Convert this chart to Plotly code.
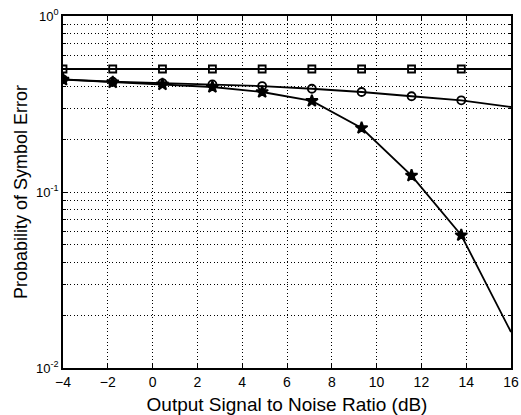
import plotly.graph_objects as go

# Output SNR sample points (dB)
snr_db = [-4.0, -1.78, 0.44, 2.67, 4.89, 7.11, 9.33, 11.56, 13.78, 16.0]

# Symbol error probability for the three receivers
pe_square = [0.50, 0.50, 0.50, 0.50, 0.50, 0.50, 0.50, 0.50, 0.50, 0.50]
pe_circle = [0.437, 0.423, 0.416, 0.409, 0.400, 0.386, 0.370, 0.350, 0.332, 0.304]
pe_star = [0.435, 0.420, 0.409, 0.395, 0.370, 0.329, 0.231, 0.124, 0.0568, 0.016]

x_ticks = [-4, -2, 0, 2, 4, 6, 8, 10, 12, 14, 16]
y_ticks = [0.01, 0.1, 1.0]
y_ticktext = ["10<sup>-2</sup>", "10<sup>-1</sup>", "10<sup>0</sup>"]
y_minor = [m * 10.0 ** e for e in (-2, -1) for m in range(2, 10)]

# markers on every sample except the last one, which sits on the frame
marker_sizes = [1] * (len(snr_db) - 1) + [0]

fig = go.Figure()
series = [
    (pe_square, "square-open", 7),
    (pe_circle, "circle-open", 8),
    (pe_star, "star", 9),
]
for values, symbol, size in series:
    fig.add_trace(go.Scatter(
        x=snr_db, y=values, mode="lines+markers",
        line=dict(color="black", width=1.8),
        marker=dict(symbol=symbol, size=[size * s for s in marker_sizes],
                    color="black", opacity=1,
                    line=dict(color="black", width=1.8)),
        showlegend=False,
    ))

font_family = "Liberation Sans, Arial, sans-serif"
grid_dash = "1px,2.5px"

fig.update_layout(
    width=521, height=415,
    margin=dict(l=63, r=10, t=16, b=47),
    paper_bgcolor="white", plot_bgcolor="white",
    font=dict(family=font_family, color="black", size=14),
)
fig.update_xaxes(
    range=[-4, 16], tickvals=x_ticks,
    ticktext=[str(v).replace("-", "\u2212") for v in x_ticks],
    showline=True, linecolor="black", linewidth=1.5, mirror="ticks",
    ticks="inside", ticklen=5, tickcolor="black", tickwidth=1,
    showgrid=True, gridcolor="black", gridwidth=1, griddash=grid_dash,
    zeroline=False, tickfont=dict(size=14), automargin=False,
    title=dict(text="Output Signal to Noise Ratio (dB)", font=dict(size=19), standoff=12),
)
fig.update_yaxes(
    type="log", range=[-2, 0], tickvals=y_ticks, ticktext=y_ticktext,
    showline=True, linecolor="black", linewidth=1.5, mirror="ticks",
    ticks="inside", ticklen=5, tickcolor="black", tickwidth=1,
    showgrid=True, gridcolor="black", gridwidth=1, griddash=grid_dash,
    minor=dict(tickvals=y_minor, ticks="inside", ticklen=3, tickcolor="black",
               showgrid=True, gridcolor="black", gridwidth=1, griddash=grid_dash),
    zeroline=False, tickfont=dict(size=13), automargin=False,
    title=dict(text="Probability of Symbol Error", font=dict(size=18), standoff=4),
)

fig.write_html("out.html")
